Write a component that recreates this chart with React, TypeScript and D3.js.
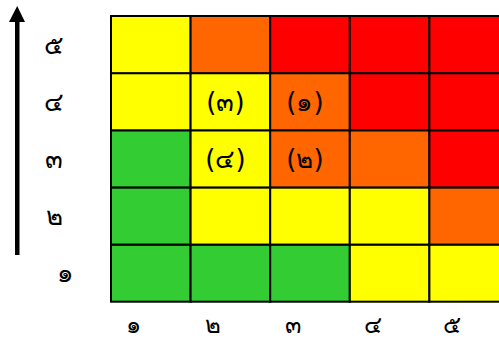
import React from "react";
import * as d3 from "d3";

const xLabels = ["๑", "๒", "๓", "๔", "๕"];
const yLabels = ["๑", "๒", "๓", "๔", "๕"];
// risk level per cell, rows from likelihood 1 (bottom) to 5 (top)
const levels: number[][] = [
  [1, 1, 1, 2, 2],
  [1, 2, 2, 2, 3],
  [1, 2, 3, 3, 4],
  [2, 2, 3, 4, 4],
  [2, 3, 4, 4, 4],
];
const marks = [
  { x: "๓", y: "๔", text: "(๑)" },
  { x: "๓", y: "๓", text: "(๒)" },
  { x: "๒", y: "๔", text: "(๓)" },
  { x: "๒", y: "๓", text: "(๔)" },
];
const levelColors = ["#33CC33", "#FFFF00", "#FF6600", "#FF0000"];

export default function App() {
  const W = 499, H = 341;
  const x = d3.scaleBand<string>().domain(xLabels).range([111, 111 + 79.6 * 5]);
  const y = d3.scaleBand<string>().domain([...yLabels].reverse()).range([16, 301.7]);
  const color = d3.scaleOrdinal<number, string>().domain([1, 2, 3, 4]).range(levelColors);
  const font = "'DejaVu Sans', 'Noto Sans', sans-serif";
  const fs = 26;
  return (
    <svg width={W} height={H} style={{ position: "absolute", left: 0, top: 0, background: "#fff" }}>
      {levels.map((row, ri) =>
        row.map((lv, ci) => (
          <rect key={`${ri}-${ci}`} x={x(xLabels[ci])} y={y(yLabels[ri])} width={x.bandwidth()} height={y.bandwidth()}
            fill={color(lv)} stroke="#000" strokeWidth={2} />
        ))
      )}
      {marks.map((m) => (
        <text key={m.text} x={(x(m.x) as number) + x.bandwidth() / 2 - 5} y={(y(m.y) as number) + y.bandwidth() / 2}
          textAnchor="middle" dominantBaseline="central" fontFamily={font} fontSize={fs} fill="#000">{m.text}</text>
      ))}
      {yLabels.map((l, i) => (
        <text key={"y" + l} x={i === 0 ? 65 : 54} y={(y(l) as number) + y.bandwidth() / 2}
          textAnchor="middle" dominantBaseline="central" fontFamily={font} fontSize={fs} fill="#000">{l}</text>
      ))}
      {xLabels.map((l) => (
        <text key={"x" + l} x={(x(l) as number) + x.bandwidth() / 2 - 17} y={325}
          textAnchor="middle" dominantBaseline="central" fontFamily={font} fontSize={fs - 2} fill="#000">{l}</text>
      ))}
      <rect x={15} y={20} width={4.5} height={235} fill="#000" />
      <path d="M9,22 L17.2,6 L25,22 Z" fill="#000" />
    </svg>
  );
}
